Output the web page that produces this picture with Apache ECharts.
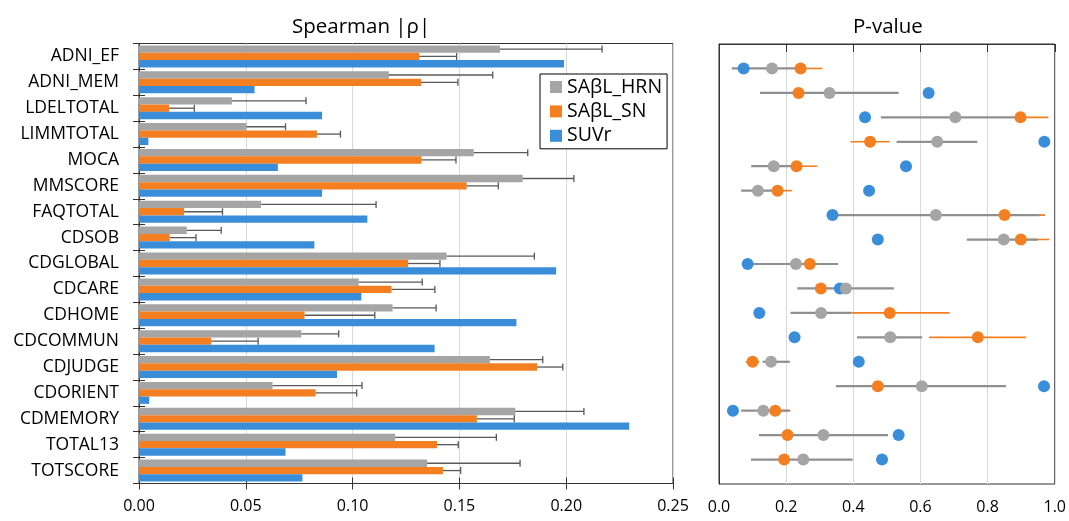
<!DOCTYPE html>
<html>
<head>
<meta charset="utf-8">
<script src="https://cdn.jsdelivr.net/npm/echarts@6/dist/echarts.min.js"></script>
<style>html,body{margin:0;padding:0;background:#fff;}#c{width:1069px;height:521px;}</style>
</head>
<body>
<div id="c"></div>
<script>
// ---------- data ----------
const categories = ['ADNI_EF','ADNI_MEM','LDELTOTAL','LIMMTOTAL','MOCA','MMSCORE','FAQTOTAL','CDSOB','CDGLOBAL','CDCARE','CDHOME','CDCOMMUN','CDJUDGE','CDORIENT','CDMEMORY','TOTAL13','TOTSCORE'];
const seriesNames = ['SAβL_HRN','SAβL_SN','SUVr'];

// Spearman |rho|
const rhoHRN    = [0.169,0.117,0.0435,0.0503,0.1567,0.1796,0.0571,0.0224,0.144,0.1029,0.1187,0.076,0.1643,0.0625,0.1762,0.1199,0.1349];
const rhoHRNErr = [0.0478,0.0486,0.0347,0.0183,0.0253,0.024,0.0539,0.0161,0.0411,0.0297,0.0204,0.0175,0.0247,0.0419,0.0321,0.0474,0.0435];
const rhoSN     = [0.1312,0.1321,0.0141,0.0833,0.1323,0.1534,0.0211,0.0144,0.126,0.1182,0.0775,0.0338,0.1864,0.0827,0.1582,0.1395,0.1423];
const rhoSNErr  = [0.0175,0.0172,0.0118,0.011,0.0161,0.0148,0.018,0.0123,0.0149,0.0203,0.0329,0.022,0.012,0.0192,0.0175,0.01,0.0083];
const rhoSUVr   = [0.199,0.0541,0.0857,0.0044,0.065,0.0857,0.1069,0.0821,0.1953,0.1041,0.1767,0.1384,0.0927,0.0048,0.2295,0.0686,0.0765];

// P-values
const pHRN     = [0.158,0.329,0.704,0.650,0.163,0.116,0.646,0.848,0.229,0.378,0.304,0.510,0.155,0.604,0.132,0.311,0.251];
const pHRNLow  = [0.038,0.122,0.482,0.529,0.096,0.066,0.34,0.738,0.09,0.233,0.213,0.411,0.13,0.348,0.066,0.119,0.095];
const pHRNHigh = [0.24,0.535,0.90,0.769,0.22,0.17,0.954,0.95,0.355,0.521,0.394,0.605,0.211,0.855,0.21,0.5035,0.398];
const pSN      = [0.243,0.237,0.898,0.450,0.231,0.1745,0.8505,0.899,0.2706,0.3033,0.5085,0.771,0.100,0.473,0.1675,0.204,0.194];
const pSNLow   = [0.235,0.237,0.88,0.3915,0.22,0.165,0.83,0.89,0.2706,0.3033,0.394,0.6254,0.079,0.473,0.16,0.204,0.194];
const pSNHigh  = [0.308,0.237,0.981,0.5085,0.293,0.217,0.971,0.984,0.2706,0.3033,0.687,0.915,0.12,0.473,0.213,0.204,0.194];
const pSUVr    = [0.0734,0.6244,0.435,0.969,0.557,0.447,0.338,0.473,0.0853,0.36,0.12,0.225,0.4163,0.968,0.0416,0.535,0.4856];

const rhoTicks = [0, 0.25, 0.05];
const pTicks = [0, 1, 0.2];

// ---------- style ----------
const C_GRAY = '#a5a5a5', C_ORANGE = '#f47f20', C_BLUE = '#3a8ed9';
const FONT = '"Open Sans", sans-serif';
const GAP = 0.15;

const chart = echarts.init(document.getElementById('c'));

function errBarRender(slot) {
  return function (params, api) {
    const v = api.value(0), c = api.value(1), e = api.value(2);
    const p0 = api.coord([v, c]);
    const p1 = api.coord([v + e, c]);
    const band = api.size([0, 1])[1];
    const bw = band * (1 - GAP) / 3;
    const y = p0[1] - band * (1 - GAP) / 2 + bw * (slot + 0.5);
    const st = { stroke: '#595959', lineWidth: 1.3 };
    return { type: 'group', children: [
      { type: 'line', shape: { x1: p0[0], y1: y, x2: p1[0], y2: y }, style: st },
      { type: 'line', shape: { x1: p1[0], y1: y - 3.5, x2: p1[0], y2: y + 3.5 }, style: st }
    ]};
  };
}
function rangeRender(color, width) {
  return function (params, api) {
    const a = api.coord([api.value(0), api.value(2)]);
    const b = api.coord([api.value(1), api.value(2)]);
    return { type: 'line', shape: { x1: a[0], y1: a[1], x2: b[0], y2: b[1] }, style: { stroke: color, lineWidth: width } };
  };
}

const rows = categories.map((_, i) => i + 1);

const option = {
  animation: false,
  textStyle: { fontFamily: FONT },
  title: [
    { text: 'Spearman |ρ|', left: 287, top: 12, textStyle: { fontFamily: FONT, fontSize: 20.5, fontWeight: 'normal', color: '#000' } },
    { text: 'P-value', left: 848, top: 12, textStyle: { fontFamily: FONT, fontSize: 20.5, fontWeight: 'normal', color: '#000' } }
  ],
  legend: {
    data: seriesNames,
    orient: 'vertical', left: 540, top: 74,
    padding: [3, 5, 3, 10], itemGap: 4.4,
    itemWidth: 12, itemHeight: 12, icon: 'rect',
    borderColor: '#000', borderWidth: 1, backgroundColor: '#fff',
    textStyle: { fontFamily: FONT, fontSize: 19.5, color: '#000' }
  },
  grid: [
    { left: 139, top: 43.5, width: 534, height: 440, show: true, borderColor: '#333', borderWidth: 1, containLabel: false },
    { left: 719, top: 44, width: 336, height: 440, show: true, borderColor: '#333', borderWidth: 1, containLabel: false }
  ],
  xAxis: [
    { type: 'value', gridIndex: 0, min: rhoTicks[0], max: rhoTicks[1], interval: rhoTicks[2],
      axisLine: { show: true, lineStyle: { color: '#333' } },
      axisTick: { show: true, length: 6, lineStyle: { color: '#333' } },
      axisLabel: { fontFamily: FONT, fontSize: 16, color: '#000', margin: 15, formatter: v => v.toFixed(2) },
      splitLine: { show: true, lineStyle: { color: '#d9d9d9', width: 1 } } },
    { type: 'value', gridIndex: 1, min: pTicks[0], max: pTicks[1], interval: pTicks[2],
      axisLine: { show: true, lineStyle: { color: '#333' } },
      axisTick: { show: true, length: 8, lineStyle: { color: '#333' } },
      axisLabel: { fontFamily: FONT, fontSize: 16, color: '#000', margin: 15, formatter: v => v.toFixed(1) },
      splitLine: { show: true, lineStyle: { color: '#d9d9d9', width: 1 } } },
    { type: 'value', gridIndex: 0, position: 'bottom', min: rhoTicks[0], max: rhoTicks[1], interval: rhoTicks[2],
      axisLine: { show: false }, axisLabel: { show: false }, splitLine: { show: false },
      axisTick: { show: true, inside: true, length: 6, lineStyle: { color: '#333' } } }
  ],
  yAxis: [
    { type: 'category', gridIndex: 0, data: categories, inverse: true,
      axisLine: { show: true, lineStyle: { color: '#333' } },
      axisTick: { show: true, length: 6, lineStyle: { color: '#333' } },
      axisLabel: { fontFamily: FONT, fontSize: 17.5, color: '#000', margin: 20 },
      splitLine: { show: false } },
    { type: 'value', gridIndex: 1, min: 0, max: 18, inverse: true,
      axisLine: { show: true, lineStyle: { color: '#333' } },
      axisTick: { show: false }, axisLabel: { show: false }, splitLine: { show: false } },
    { type: 'category', gridIndex: 0, data: categories, inverse: true, position: 'left',
      axisLine: { show: false }, axisLabel: { show: false }, splitLine: { show: false },
      axisTick: { show: true, inside: true, length: 6, lineStyle: { color: '#333' } } }
  ],
  series: [
    { name: seriesNames[0], type: 'bar', xAxisIndex: 0, yAxisIndex: 0, data: rhoHRN, itemStyle: { color: C_GRAY }, barGap: '0%', barCategoryGap: (GAP * 100) + '%' },
    { name: seriesNames[1], type: 'bar', xAxisIndex: 0, yAxisIndex: 0, data: rhoSN, itemStyle: { color: C_ORANGE } },
    { name: seriesNames[2], type: 'bar', xAxisIndex: 0, yAxisIndex: 0, data: rhoSUVr, itemStyle: { color: C_BLUE } },
    { type: 'custom', xAxisIndex: 0, yAxisIndex: 0, renderItem: errBarRender(0), encode: { x: 0, y: 1 }, z: 5,
      data: rhoHRN.map((v, i) => [v, i, rhoHRNErr[i]]) },
    { type: 'custom', xAxisIndex: 0, yAxisIndex: 0, renderItem: errBarRender(1), encode: { x: 0, y: 1 }, z: 5,
      data: rhoSN.map((v, i) => [v, i, rhoSNErr[i]]) },
    { type: 'custom', xAxisIndex: 1, yAxisIndex: 1, renderItem: rangeRender(C_ORANGE, 1.6), encode: { x: [0, 1], y: 2 }, z: 3,
      data: rows.map((r, i) => [pSNLow[i], pSNHigh[i], r]) },
    { type: 'custom', xAxisIndex: 1, yAxisIndex: 1, renderItem: rangeRender('#8f8f8f', 2.2), encode: { x: [0, 1], y: 2 }, z: 4,
      data: rows.map((r, i) => [pHRNLow[i], pHRNHigh[i], r]) },
    { name: seriesNames[2], type: 'scatter', xAxisIndex: 1, yAxisIndex: 1, symbolSize: 12, z: 5, itemStyle: { color: C_BLUE, opacity: 1 },
      data: rows.map((r, i) => [pSUVr[i], r]) },
    { name: seriesNames[0], type: 'scatter', xAxisIndex: 1, yAxisIndex: 1, symbolSize: 12, z: 6, itemStyle: { color: C_GRAY, opacity: 1 },
      data: rows.map((r, i) => [pHRN[i], r]) },
    { name: seriesNames[1], type: 'scatter', xAxisIndex: 1, yAxisIndex: 1, symbolSize: 12, z: 7, itemStyle: { color: C_ORANGE, opacity: 1 },
      data: rows.map((r, i) => [pSN[i], r]) }
  ]
};
chart.setOption(option);
</script>
</body>
</html>
